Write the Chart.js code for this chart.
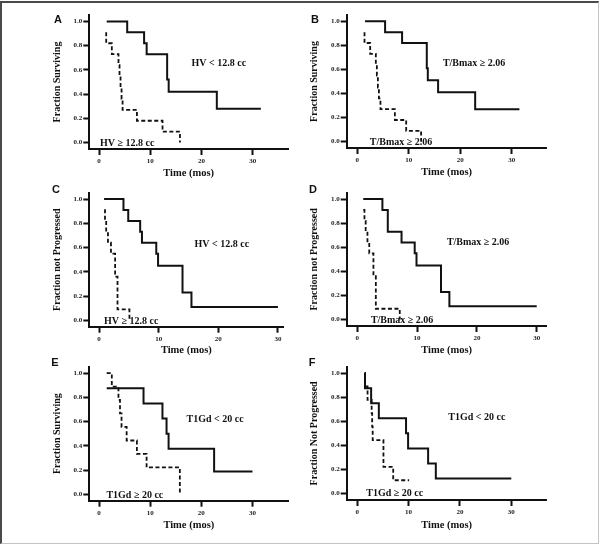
<!DOCTYPE html>
<html><head><meta charset="utf-8">
<script src="https://cdn.jsdelivr.net/npm/chart.js@4.4.0/dist/chart.umd.min.js"></script>
<style>
html,body{margin:0;padding:0;background:#fff;}
#fig{position:relative;width:600px;height:546px;overflow:hidden;background:#fff;}
#frame{position:absolute;left:0;top:1px;width:599px;height:543px;box-sizing:border-box;border-top:2px solid #4a4a4a;border-left:2px solid #4a4a4a;border-right:1px solid #c4c4c4;border-bottom:1px solid #c4c4c4;}
canvas{position:absolute;}
.lbl{position:absolute;font:bold 11px "Liberation Sans",Arial,sans-serif;color:#111;transform:translate(-50%,-50%);line-height:1;}
</style></head>
<body><div id="fig"><div id="frame"></div></div>
<script>
// ---- shared tick labels ----
const xTicks = [0, 10, 20, 30];
const yTicks = [0.0, 0.2, 0.4, 0.6, 0.8, 1.0];

// ---- Panel A : survival by HV ----
const aSolidT = [1.5, 5.5, 8.8, 9.3, 13.3, 13.6, 23.0, 31.6];
const aSolidS = [1.0, 0.91, 0.82, 0.73, 0.52, 0.42, 0.28, 0.28];
const aDashT  = [1.4, 1.4, 2.5, 3.8, 4.0, 4.2, 4.4, 4.6, 7.4, 12.4, 15.8];
const aDashS  = [0.91, 0.82, 0.73, 0.64, 0.55, 0.45, 0.36, 0.27, 0.18, 0.09, 0.0];

// ---- Panel B : survival by T/Bmax ----
const bSolidT = [1.5, 5.4, 8.7, 13.5, 13.7, 15.7, 22.9, 31.5];
const bSolidS = [1.0, 0.91, 0.82, 0.61, 0.51, 0.41, 0.27, 0.27];
const bDashT  = [1.4, 1.4, 2.5, 3.6, 3.8, 4.0, 4.2, 4.5, 7.3, 9.5, 12.4];
const bDashS  = [0.91, 0.82, 0.73, 0.64, 0.55, 0.45, 0.36, 0.27, 0.18, 0.09, 0.0];

// ---- Panel C : progression by HV ----
const cSolidT = [0.85, 4.1, 4.9, 6.9, 7.2, 9.6, 9.9, 14.0, 15.5, 30.0];
const cSolidS = [1.0, 0.91, 0.82, 0.73, 0.64, 0.55, 0.45, 0.23, 0.11, 0.11];
const cDashT  = [0.85, 1.0, 1.2, 1.5, 2.0, 2.7, 3.1, 5.1];
const cDashS  = [0.91, 0.82, 0.73, 0.64, 0.55, 0.36, 0.09, 0.0];

// ---- Panel D : progression by T/Bmax ----
const dSolidT = [1.0, 4.2, 5.1, 7.4, 9.6, 9.9, 14.0, 15.4, 30.0];
const dSolidS = [1.0, 0.91, 0.73, 0.64, 0.55, 0.45, 0.23, 0.11, 0.11];
const dDashT  = [1.0, 1.2, 1.4, 1.7, 2.0, 2.7, 3.1, 7.1];
const dDashS  = [0.91, 0.82, 0.73, 0.64, 0.55, 0.36, 0.09, 0.0];

// ---- Panel E : survival by T1Gd ----
const eSolidT = [1.5, 8.7, 12.4, 13.2, 13.6, 22.5, 30.0];
const eSolidS = [0.875, 0.75, 0.625, 0.5, 0.375, 0.1875, 0.1875];
const eDashT  = [1.5, 2.5, 3.8, 4.1, 4.4, 5.4, 7.4, 9.3, 15.8];
const eDashS  = [1.0, 0.889, 0.778, 0.667, 0.556, 0.444, 0.333, 0.222, 0.0];

// ---- Panel F : progression by T1Gd ----
const fSolidT = [1.4, 1.5, 2.7, 4.2, 9.5, 9.9, 13.8, 15.3, 30.0];
const fSolidS = [1.0, 0.875, 0.75, 0.625, 0.5, 0.375, 0.25, 0.125, 0.125];
const fDashT  = [1.5, 2.0, 2.8, 2.9, 3.0, 5.1, 7.0, 10.1];
const fDashS  = [0.889, 0.778, 0.667, 0.556, 0.444, 0.222, 0.111, 0.111];

// ---- texts ----
const hvLow = 'HV < 12.8 cc', hvHigh = 'HV \u2265 12.8 cc';
const tbHigh = 'T/Bmax \u2265 2.06';
const gdLow = 'T1Gd < 20 cc', gdHigh = 'T1Gd \u2265 20 cc';
const xTitle = 'Time (mos)';

const SERIF = '"Liberation Serif","Times New Roman",serif';
const INK = '#111';
const Y_RANGE = [-0.053, 1.053];

const panels = [
  {letter:'A', lp:[58,19], box:{x:0,y:0,w:300,h:180}, area:{l:89.3,r:288,t:15,b:149}, xr:[-1.9,36.9],
   yTitle:'Fraction Surviving', yTitleX:57, xTitleY:173,
   solid:[aSolidT,aSolidS], dash:[aDashT,aDashS],
   notes:[{t:hvLow,x:23.4,y:0.65},{t:hvHigh,x:5.5,y:-0.01}]},
  {letter:'B', lp:[315,19], box:{x:257,y:0,w:300,h:180}, area:{l:346.7,r:546.7,t:15,b:148}, xr:[-2.06,36.8],
   yTitle:'Fraction Surviving', yTitleX:314.4, xTitleY:172.5,
   solid:[bSolidT,bSolidS], dash:[bDashT,bDashS],
   notes:[{t:tbHigh,x:22.7,y:0.65},{t:tbHigh,x:8.5,y:-0.01}]},
  {letter:'C', lp:[56,189], box:{x:0,y:170,w:300,h:190}, area:{l:89.3,r:283.3,t:192.7,b:326.7}, xr:[-1.63,30.9],
   yTitle:'Fraction not Progressed', yTitleX:57.3, xTitleY:350.7,
   solid:[cSolidT,cSolidS], dash:[cDashT,cDashS],
   notes:[{t:hvLow,x:20.6,y:0.63},{t:hvHigh,x:5.4,y:-0.01}]},
  {letter:'D', lp:[313,189], box:{x:257,y:170,w:300,h:190}, area:{l:346.7,r:546.7,t:192.7,b:326}, xr:[-1.77,31.67],
   yTitle:'Fraction not Progressed', yTitleX:314.4, xTitleY:350.5,
   solid:[dSolidT,dSolidS], dash:[dDashT,dDashS],
   notes:[{t:tbHigh,x:20.2,y:0.64},{t:tbHigh,x:7.5,y:-0.005}]},
  {letter:'E', lp:[55,362], box:{x:0,y:350,w:300,h:186}, area:{l:89.3,r:288.3,t:366.7,b:500.7}, xr:[-1.9,37.0],
   yTitle:'Fraction Surviving', yTitleX:57, xTitleY:525.7,
   solid:[eSolidT,eSolidS], dash:[eDashT,eDashS],
   notes:[{t:gdLow,x:22.7,y:0.62},{t:gdHigh,x:7.0,y:-0.01}]},
  {letter:'F', lp:[312,362], box:{x:257,y:350,w:300,h:186}, area:{l:346.7,r:546.7,t:366.7,b:500}, xr:[-2.06,36.9],
   yTitle:'Fraction Not Progressed', yTitleX:314.4, xTitleY:525.5,
   solid:[fSolidT,fSolidS], dash:[fDashT,fDashS],
   notes:[{t:gdLow,x:23.3,y:0.63},{t:gdHigh,x:7.3,y:0.0}]}
];

const notePlugin = {
  id:'notes',
  afterDatasetsDraw(chart, args, opts){
    const {ctx} = chart; const xs = chart.scales.x, ys = chart.scales.y;
    ctx.save();
    ctx.font = 'bold 10px ' + SERIF;
    ctx.fillStyle = INK; ctx.textAlign = 'center'; ctx.textBaseline = 'middle';
    (opts.items||[]).forEach(n => ctx.fillText(n.t, xs.getPixelForValue(n.x), ys.getPixelForValue(n.y)));
    ctx.restore();
  }
};

const fig = document.getElementById('fig');
const yTitleFont = 10, xTitleFont = 10.5;

panels.forEach(p => {
  const cv = document.createElement('canvas');
  cv.width = p.box.w; cv.height = p.box.h;
  cv.style.left = p.box.x + 'px'; cv.style.top = p.box.y + 'px';
  cv.style.width = p.box.w + 'px'; cv.style.height = p.box.h + 'px';
  fig.appendChild(cv);

  const lbl = document.createElement('div');
  lbl.className = 'lbl'; lbl.textContent = p.letter;
  lbl.style.left = p.lp[0] + 'px'; lbl.style.top = p.lp[1] + 'px';
  fig.appendChild(lbl);

  const padLeft = p.yTitleX - p.box.x - yTitleFont * 1.2 / 2;
  const yW = p.area.l - p.box.x - padLeft;
  const padTop = p.area.t - p.box.y;
  const padRight = p.box.x + p.box.w - p.area.r;
  const padBottom = p.box.y + p.box.h - p.xTitleY - xTitleFont * 1.2 / 2;
  const xH = p.box.y + p.box.h - padBottom - p.area.b;

  const toPts = (arr) => arr[0].map((t, i) => ({x: t, y: arr[1][i]}));

  new Chart(cv, {
    type: 'line',
    data: { datasets: [
      {data: toPts(p.solid), borderColor: INK, borderWidth: 2, stepped: 'before', pointRadius: 0, fill: false, tension: 0},
      {data: toPts(p.dash), borderColor: INK, borderWidth: 1.8, borderDash: [4, 2.5], stepped: 'before', pointRadius: 0, fill: false, tension: 0}
    ]},
    options: {
      responsive: false, animation: false, devicePixelRatio: 1,
      layout: {autoPadding: false, padding: {left: padLeft, top: padTop, right: padRight, bottom: padBottom}},
      plugins: {legend: {display: false}, tooltip: {enabled: false}, notes: {items: p.notes}},
      scales: {
        x: {
          type: 'linear', min: p.xr[0], max: p.xr[1],
          afterBuildTicks: s => { s.ticks = xTicks.map(v => ({value: v})); },
          afterFit: s => { s.height = xH; },
          ticks: {color: '#222', padding: 2, font: {family: SERIF, size: 7, weight: 'bold'}, callback: v => String(v), maxRotation: 0, autoSkip: false},
          grid: {display: true, drawOnChartArea: false, drawTicks: true, tickLength: 6, tickWidth: 2, tickColor: INK},
          border: {display: true, width: 2, color: INK},
          title: {display: true, text: xTitle, color: INK, padding: 0, font: {family: SERIF, size: xTitleFont, weight: 'bold'}}
        },
        y: {
          type: 'linear', min: Y_RANGE[0], max: Y_RANGE[1],
          afterBuildTicks: s => { s.ticks = yTicks.map(v => ({value: v})); },
          afterFit: s => { s.width = yW; },
          ticks: {color: '#222', padding: 1, font: {family: SERIF, size: 7, weight: 'bold'}, callback: v => Number(v).toFixed(1), autoSkip: false},
          grid: {display: true, drawOnChartArea: false, drawTicks: true, tickLength: 6, tickWidth: 2, tickColor: INK},
          border: {display: true, width: 2, color: INK},
          title: {display: true, text: p.yTitle, color: INK, padding: 0, font: {family: SERIF, size: yTitleFont, weight: 'bold'}}
        }
      }
    },
    plugins: [notePlugin]
  });
});
</script>
</body></html>
